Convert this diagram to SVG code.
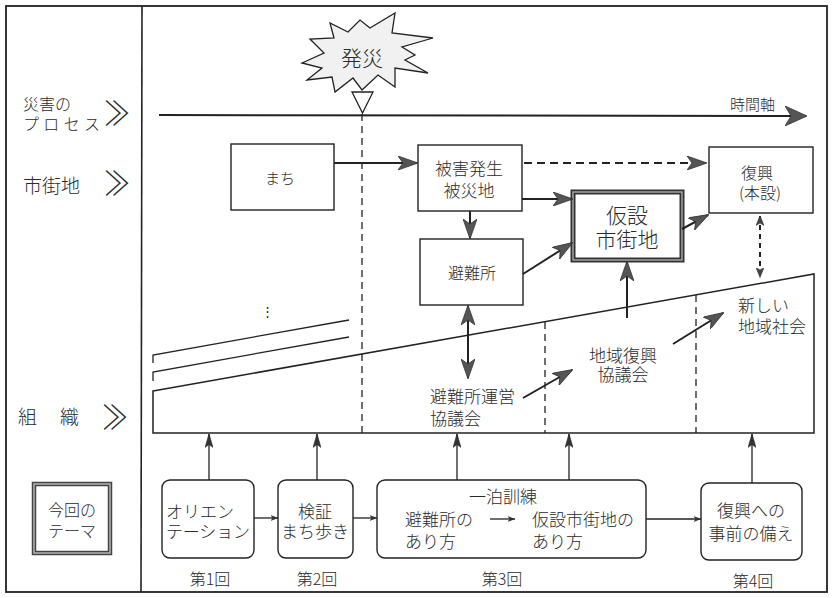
<svg xmlns="http://www.w3.org/2000/svg" width="833" height="598" viewBox="0 0 833 598">
<style>
text{font-family:"Noto Sans CJK JP","Noto Sans",sans-serif;fill:#2a2a2a;font-weight:300}
.box{fill:#fff;stroke:#222;stroke-width:1.4}
.rbox{fill:#fff;stroke:#222;stroke-width:1.4}
.ln{fill:none;stroke:#222;stroke-width:2}
.thin{fill:none;stroke:#222;stroke-width:1.3}
.vdash{fill:none;stroke:#222;stroke-width:1.3;stroke-dasharray:7,5}
.c{text-anchor:middle}
.chev{font-family:"Noto Sans CJK JP",sans-serif;font-weight:300}
</style>
<defs>
<marker id="big" viewBox="0 0 20 14" refX="19" refY="7" markerWidth="20" markerHeight="14" markerUnits="userSpaceOnUse" orient="auto-start-reverse">
<path d="M0,0 L20,7 L0,14 L5,7 z" fill="#555" stroke="#333" stroke-width="0.8"/>
</marker>
<marker id="axis" viewBox="0 0 22 20" refX="21" refY="10" markerWidth="22" markerHeight="20" markerUnits="userSpaceOnUse" orient="auto">
<path d="M0,0 L22,10 L0,20 L6,10 z" fill="#555" stroke="#333" stroke-width="0.8"/>
</marker>
<marker id="sm" viewBox="0 0 10 8" refX="9.5" refY="4" markerWidth="10" markerHeight="8" markerUnits="userSpaceOnUse" orient="auto-start-reverse">
<path d="M0,0 L10,4 L0,8 L2.5,4 z" fill="#444" stroke="#333" stroke-width="0.6"/>
</marker>
<marker id="up" viewBox="0 0 14 8" refX="13.5" refY="4" markerWidth="14" markerHeight="8" markerUnits="userSpaceOnUse" orient="auto">
<path d="M0,0 L14,4 L0,8 L3,4 z" fill="#333" stroke="#222" stroke-width="0.5"/>
</marker>
<marker id="tiny" viewBox="0 0 8 6" refX="7.5" refY="3" markerWidth="8" markerHeight="6" markerUnits="userSpaceOnUse" orient="auto">
<path d="M0,0 L8,3 L0,6 L2,3 z" fill="#333"/>
</marker>
</defs>

<!-- frame -->
<g id="frame">
<rect x="6" y="6" width="821" height="586" fill="none" stroke="#222" stroke-width="1.8"/>
<line x1="142" y1="6" x2="141" y2="592" stroke="#222" stroke-width="1.6"/>
</g>

<!-- left labels -->
<g id="labels">
<text x="23" y="110" font-size="16">災害の</text>
<text x="23" y="130" font-size="16" textLength="77" lengthAdjust="spacing">プロセス</text>
<text class="chev" x="104" y="97" font-size="26" transform="scale(1,1.3)">≫</text>
<text x="23" y="193" font-size="19">市街地</text>
<text class="chev" x="104" y="151" font-size="26" transform="scale(1,1.3)">≫</text>
<text x="18" y="424" font-size="19">組</text>
<text x="60" y="424" font-size="19">織</text>
<text class="chev" x="102" y="331" font-size="26" transform="scale(1,1.3)">≫</text>
</g>

<g id="theme">
<rect x="34" y="484" width="76" height="69" fill="#fff" stroke="#444" stroke-width="4.5"/>
<rect x="34" y="484" width="76" height="69" fill="none" stroke="#bbb" stroke-width="1.4"/>
<text class="c" x="72" y="516" font-size="16">今回の</text>
<text class="c" x="72" y="537" font-size="16">テーマ</text>
</g>

<!-- timeline -->
<g id="timeline">
<line x1="159" y1="115" x2="806" y2="116" class="ln" marker-end="url(#axis)"/>
<text x="730" y="110" font-size="15">時間軸</text>
</g>

<g id="hassai">
<polygon points="302,63 324,53 310,39 334,38 330,23 348,32 360,20 370,28 395,13 392,33 433,38 402,47 415,55 405,60 428,73 395,68 395,87 378,75 362,90 353,78 335,92 332,77 307,80 322,68" fill="#f1f1f1" stroke="#222" stroke-width="1.3" stroke-linejoin="miter"/>
<text class="c" x="362" y="66" font-size="21">発災</text>
<polygon points="352,92 373,92 362.5,113" fill="#fff" stroke="#222" stroke-width="1.3"/>
</g>

<!-- organisation band -->
<g id="org">
<polygon points="153,391 814,274 814,433 153,433" fill="#fff" stroke="#222" stroke-width="1.5"/>
<polyline points="153,363 153,355 349,320" class="thin" stroke-width="1.5"/>
<polyline points="153,381 153,372 349,337" class="thin" stroke-width="1.5"/>
<text class="c" x="267" y="316" font-size="13">⋮</text>
</g>

<!-- dashed time divisions -->
<g id="divisions">
<line x1="362" y1="114" x2="362" y2="433" class="vdash"/>
<line x1="545" y1="322" x2="545" y2="433" class="vdash"/>
<line x1="696" y1="295" x2="696" y2="433" class="vdash"/>
</g>

<!-- city nodes -->
<g id="machi">
<rect class="box" x="231" y="144" width="103" height="66"/>
<text class="c" x="280" y="184" font-size="15">まち</text>
</g>
<g id="higai">
<rect class="box" x="418" y="145" width="104" height="66"/>
<text class="c" x="469" y="175" font-size="17">被害発生</text>
<text class="c" x="469" y="197" font-size="17">被災地</text>
</g>
<g id="hinanjo">
<rect class="box" x="420" y="239" width="103" height="66"/>
<text class="c" x="472" y="279" font-size="16">避難所</text>
</g>
<g id="kasetsu">
<rect x="573" y="192" width="109" height="68" fill="#fff" stroke="#333" stroke-width="5"/>
<rect x="573" y="192" width="109" height="68" fill="none" stroke="#aaa" stroke-width="1.4"/>
<text class="c" x="627" y="223" font-size="21">仮設</text>
<text class="c" x="627" y="247" font-size="21">市街地</text>
</g>
<g id="fukko">
<rect class="box" x="709" y="147" width="104" height="66"/>
<text class="c" x="757" y="179" font-size="16">復興</text>
<text class="c" x="760" y="199" font-size="16">(本設)</text>
</g>

<!-- organisation labels -->
<g id="hinanjo-kyogikai">
<text x="430" y="403" font-size="17">避難所運営</text>
<text x="430" y="425" font-size="17">協議会</text>
</g>
<g id="chiiki-kyogikai">
<text class="c" x="623" y="362" font-size="17">地域復興</text>
<text class="c" x="623" y="381" font-size="17">協議会</text>
</g>
<g id="atarashii">
<text x="738" y="312" font-size="17">新しい</text>
<text x="738" y="333" font-size="17">地域社会</text>
</g>

<!-- bottom sessions -->
<g id="s1">
<rect class="rbox" x="162" y="480" width="92" height="78" rx="8"/>
<text x="166" y="518" font-size="17">オリエン</text>
<text x="166" y="538" font-size="17" textLength="84" lengthAdjust="spacing">テーション</text>
<text class="c" x="210" y="585" font-size="16">第1回</text>
</g>
<g id="s2">
<rect class="rbox" x="278" y="480" width="75" height="78" rx="8"/>
<text class="c" x="315" y="518" font-size="17">検証</text>
<text class="c" x="315" y="538" font-size="17">まち歩き</text>
<text class="c" x="317" y="585" font-size="16">第2回</text>
</g>
<g id="s3">
<rect class="rbox" x="377" y="480" width="269" height="78" rx="8"/>
<text class="c" x="503" y="503" font-size="17">一泊訓練</text>
<text x="405" y="526" font-size="17">避難所の</text>
<text x="405" y="548" font-size="17">あり方</text>
<text x="532" y="526" font-size="17">仮設市街地の</text>
<text x="532" y="548" font-size="17">あり方</text>
<text class="c" x="502" y="585" font-size="16">第3回</text>
</g>
<g id="s4">
<rect class="rbox" x="701" y="483" width="101" height="77" rx="8"/>
<text class="c" x="751" y="517" font-size="17">復興への</text>
<text class="c" x="751" y="540" font-size="17">事前の備え</text>
<text class="c" x="753" y="587" font-size="16">第4回</text>
</g>

<!-- connectors -->
<g id="connectors">
<line x1="334" y1="163" x2="417" y2="163" class="ln" marker-end="url(#big)"/>
<line x1="524" y1="163" x2="706" y2="163" class="ln" stroke-width="2.5" stroke-dasharray="8,5" marker-end="url(#big)"/>
<line x1="522" y1="199" x2="572" y2="199" class="ln" marker-end="url(#big)"/>
<line x1="470" y1="211" x2="470" y2="238" class="ln" marker-end="url(#big)"/>
<line x1="523" y1="274" x2="572" y2="243" class="ln" marker-end="url(#big)"/>
<line x1="682" y1="229" x2="708" y2="215" class="ln" marker-end="url(#big)"/>
<line x1="760" y1="216" x2="760" y2="277" class="ln" stroke-dasharray="5,4" marker-start="url(#sm)" marker-end="url(#sm)"/>
<line x1="468" y1="306" x2="468" y2="378" class="ln" marker-start="url(#big)" marker-end="url(#big)"/>
<line x1="627" y1="318" x2="627" y2="262" class="ln" marker-end="url(#big)"/>
<line x1="523" y1="398" x2="572" y2="370" class="ln" marker-end="url(#big)"/>
<line x1="673" y1="344" x2="723" y2="313" class="ln" marker-end="url(#big)"/>

<line x1="209" y1="480" x2="209" y2="434" class="thin" marker-end="url(#up)"/>
<line x1="317" y1="480" x2="317" y2="434" class="thin" marker-end="url(#up)"/>
<line x1="457" y1="480" x2="457" y2="434" class="thin" marker-end="url(#up)"/>
<line x1="569" y1="480" x2="569" y2="434" class="thin" marker-end="url(#up)"/>
<line x1="752" y1="483" x2="752" y2="434" class="thin" marker-end="url(#up)"/>

<line x1="254" y1="518" x2="278" y2="518" class="thin" marker-end="url(#tiny)"/>
<line x1="353" y1="518" x2="377" y2="518" class="thin" marker-end="url(#tiny)"/>
<line x1="646" y1="519" x2="701" y2="519" class="thin" marker-end="url(#tiny)"/>
<line x1="490" y1="519" x2="515" y2="519" class="thin" marker-end="url(#tiny)"/>
</g>
</svg>
